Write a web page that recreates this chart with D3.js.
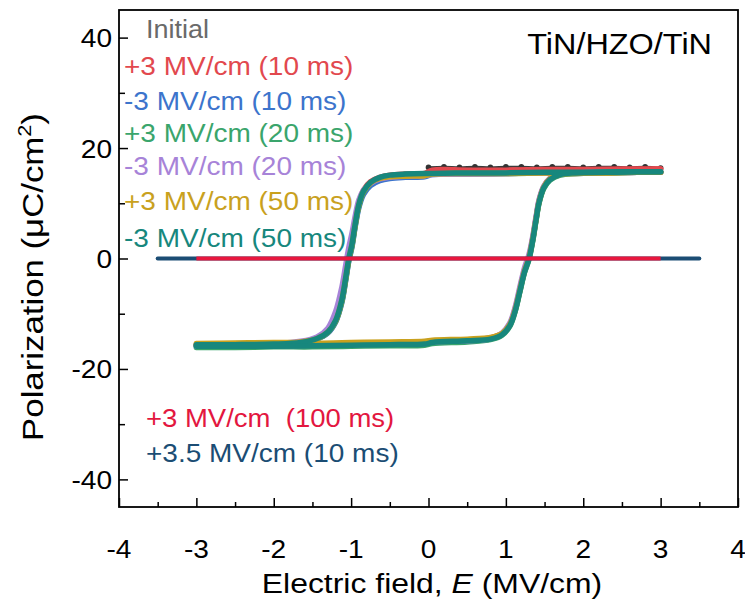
<!DOCTYPE html>
<html>
<head>
<meta charset="utf-8">
<script src="https://cdn.jsdelivr.net/npm/d3@7/dist/d3.min.js"></script>
<style>
  html, body { margin: 0; padding: 0; background: #fff; }
  svg { display: block; font-family: "Liberation Sans", Arial, sans-serif; }
  svg text { white-space: pre; }
</style>
</head>
<body>
<svg id="chart" width="745" height="601"></svg>
<script>
// Electric-field grids for the two loop branches (MV/cm)
const eUpper = [3.0, 2.5, 2.0, 1.5, 1.0, 0.5, 0.05, -0.05, -0.3, -0.5, -0.63, -0.75, -0.84, -0.90, -0.95, -0.99, -1.03, -1.07, -1.12, -1.20, -1.30, -1.44, -1.65, -2.0, -2.5, -3.0];
const eLower = [-3.0, -2.5, -2.0, -1.5, -1.0, -0.5, -0.05, 0.05, 0.5, 0.8, 0.95, 1.05, 1.12, 1.18, 1.24, 1.30, 1.35, 1.39, 1.43, 1.49, 1.57, 1.7, 1.9, 2.3, 2.7, 3.0];

// Polarization (µC/cm²) on each branch, per stress condition
const pUpperRed10    = [16.2, 16.2, 16.1, 16.1, 16.0, 16.0, 16.0, 15.4, 15.3, 15.1, 14.7, 13.9, 12.4, 10.0, 6.3, 2.8, 0.3, -3.2, -7.3, -11.0, -13.2, -14.5, -15.2, -15.5, -15.6, -15.6];
const pLowerRed10    = [-15.7, -15.7, -15.6, -15.6, -15.5, -15.4, -15.3, -15.0, -14.8, -14.4, -13.6, -11.9, -9.1, -5.6, -2.1, 0.4, 3.9, 7.3, 10.5, 13.0, 14.5, 15.4, 15.8, 16.0, 16.1, 16.2];
const pUpperBlue10   = [15.6, 15.6, 15.5, 15.5, 15.4, 15.3, 15.2, 14.8, 14.7, 14.5, 14.1, 13.2, 11.6, 9.2, 5.5, 2.0, -0.5, -4.0, -8.0, -11.5, -13.5, -14.6, -15.3, -15.5, -15.6, -15.6];
const pLowerBlue10   = [-15.8, -15.8, -15.7, -15.6, -15.5, -15.3, -15.1, -15.0, -14.8, -14.4, -13.7, -12.0, -9.3, -5.8, -2.3, 0.2, 3.7, 7.2, 10.4, 12.9, 14.4, 15.2, 15.4, 15.5, 15.6, 15.6];
const pUpperGreen20  = [15.6, 15.6, 15.5, 15.5, 15.4, 15.4, 15.3, 15.3, 15.2, 15.0, 14.6, 13.6, 12.0, 9.5, 5.7, 2.2, -0.3, -3.8, -7.8, -11.4, -13.4, -14.6, -15.3, -15.6, -15.7, -15.8];
const pLowerGreen20  = [-16.1, -16.1, -16.0, -16.0, -15.9, -15.8, -15.7, -15.4, -15.1, -14.7, -13.9, -12.3, -9.6, -6.1, -2.6, -0.1, 3.4, 6.9, 10.1, 12.7, 14.2, 15.1, 15.4, 15.5, 15.6, 15.6];
const pUpperPurple20 = [15.6, 15.6, 15.5, 15.5, 15.4, 15.3, 15.2, 15.0, 14.9, 14.7, 14.4, 13.6, 12.4, 10.6, 7.5, 4.5, 2.0, -1.2, -5.2, -9.6, -12.6, -14.2, -15.0, -15.4, -15.5, -15.6];
const pLowerPurple20 = [-15.9, -15.9, -15.8, -15.7, -15.6, -15.5, -15.4, -15.1, -14.9, -14.5, -13.5, -11.7, -8.8, -5.2, -1.7, 0.8, 4.2, 7.6, 10.7, 13.1, 14.5, 15.3, 15.5, 15.6, 15.6, 15.7];
const pUpperGold50   = [15.6, 15.6, 15.5, 15.5, 15.4, 15.4, 15.3, 15.0, 14.9, 14.8, 14.5, 13.7, 12.1, 9.7, 5.9, 2.4, -0.1, -3.6, -7.6, -11.3, -13.3, -14.5, -15.1, -15.2, -15.3, -15.4];
const pLowerGold50   = [-15.7, -15.6, -15.5, -15.4, -15.2, -15.1, -15.0, -14.8, -14.6, -14.3, -13.6, -12.0, -9.3, -5.8, -2.3, 0.2, 3.7, 7.1, 10.3, 12.9, 14.4, 15.2, 15.4, 15.5, 15.6, 15.6];
const pUpperTeal50   = [15.7, 15.7, 15.6, 15.6, 15.5, 15.5, 15.4, 15.4, 15.3, 15.1, 14.7, 13.8, 12.2, 9.8, 6.0, 2.5, 0.0, -3.5, -7.5, -11.2, -13.3, -14.5, -15.2, -15.5, -15.6, -15.6];
const pLowerTeal50   = [-15.9, -15.9, -15.9, -15.8, -15.7, -15.6, -15.5, -15.2, -14.9, -14.6, -13.8, -12.2, -9.5, -6.0, -2.5, 0.0, 3.5, 7.0, 10.2, 12.8, 14.3, 15.2, 15.5, 15.6, 15.7, 15.7];

// Initial (pristine) measurement on the positive side
const eInitial = [0.0, 0.2, 0.4, 0.6, 0.8, 1.0, 1.2, 1.4, 1.6, 1.8, 2.0, 2.2, 2.4, 2.6, 2.8, 3.0];
const pInitial = [16.5, 16.6, 16.5, 16.6, 16.5, 16.6, 16.6, 16.5, 16.6, 16.6, 16.5, 16.6, 16.6, 16.5, 16.6, 16.4];

// Long / strong pulse traces: flat at zero polarization
const eNavy35 = [-3.5, 3.5];
const pNavy35 = [0, 0];
const eRed100 = [-3.0, 3.0];
const pRed100 = [0, 0];

// Axis ticks
const xTicks = [-4, -3, -2, -1, 0, 1, 2, 3, 4];
const yTicks = [-40, -20, 0, 20, 40];

const zip = (es, ps) => es.map((e, i) => [e, ps[i]]);

const loops = [
  { name: "+3 MV/cm (10 ms)", color: "#e2484e", upper: zip(eUpper, pUpperRed10),    lower: zip(eLower, pLowerRed10) },
  { name: "-3 MV/cm (10 ms)", color: "#3c74cc", upper: zip(eUpper, pUpperBlue10),   lower: zip(eLower, pLowerBlue10) },
  { name: "+3 MV/cm (20 ms)", color: "#3aa56c", upper: zip(eUpper, pUpperGreen20),  lower: zip(eLower, pLowerGreen20) },
  { name: "-3 MV/cm (20 ms)", color: "#a783d8", upper: zip(eUpper, pUpperPurple20), lower: zip(eLower, pLowerPurple20) },
  { name: "+3 MV/cm (50 ms)", color: "#c9a11e", upper: zip(eUpper, pUpperGold50),   lower: zip(eLower, pLowerGold50) },
  { name: "-3 MV/cm (50 ms)", color: "#17877d", upper: zip(eUpper, pUpperTeal50),   lower: zip(eLower, pLowerTeal50) }
];

const svg = d3.select("#chart");
const font = '"Liberation Sans", Arial, sans-serif';

const x = d3.scaleLinear().domain([-4, 4]).range([119, 738]);
const y = d3.scaleLinear().domain([-45, 45]).range([507, 10]);

const line = d3.line()
  .x(d => x(d[0]))
  .y(d => y(d[1]))
  .curve(d3.curveCatmullRom.alpha(0.5));

const plot = svg.append("g");

// Initial trace: dark dotted line
plot.append("path")
  .datum(zip(eInitial, pInitial))
  .attr("d", line)
  .attr("fill", "none")
  .attr("stroke", "#3a3a3a")
  .attr("stroke-width", 2.2);
plot.append("g").selectAll("circle")
  .data(zip(eInitial, pInitial))
  .join("circle")
  .attr("cx", d => x(d[0]))
  .attr("cy", d => y(d[1]))
  .attr("r", 2.8)
  .attr("fill", "#333");

// Hysteresis loops
loops.forEach(s => {
  [s.upper, s.lower].forEach(branch => {
    plot.append("path")
      .datum(branch)
      .attr("d", line)
      .attr("fill", "none")
      .attr("stroke", s.color)
      .attr("stroke-width", 5.5)
      .attr("stroke-linecap", "round")
      .attr("stroke-linejoin", "round");
  });
});

// Zero-polarization traces
plot.append("path")
  .datum(zip(eNavy35, pNavy35))
  .attr("d", d3.line().x(d => x(d[0])).y(d => y(d[1])))
  .attr("stroke", "#1b4d74")
  .attr("stroke-width", 4)
  .attr("stroke-linecap", "round");
plot.append("path")
  .datum(zip(eRed100, pRed100))
  .attr("d", d3.line().x(d => x(d[0])).y(d => y(d[1])))
  .attr("stroke", "#e8173e")
  .attr("stroke-width", 4);

// Axes with inward ticks
const xMinor = d3.range(-3.5, 4, 1);
const yMinor = [-30, -10, 10, 30];

const xAxis = d3.axisBottom(x).tickValues(xTicks).tickSize(-9).tickFormat("");
const gx = svg.append("g").attr("transform", `translate(0,${y(-45)})`).call(xAxis);
gx.select(".domain").remove();
gx.selectAll(".tick line").attr("stroke", "#000").attr("stroke-width", 1.5);

const xm = d3.axisBottom(x).tickValues(xMinor).tickSize(-5).tickFormat("");
const gxm = svg.append("g").attr("transform", `translate(0,${y(-45)})`).call(xm);
gxm.select(".domain").remove();
gxm.selectAll(".tick line").attr("stroke", "#000").attr("stroke-width", 1.5);

const yAxis = d3.axisLeft(y).tickValues(yTicks).tickSize(-9).tickFormat("");
const gy = svg.append("g").attr("transform", `translate(${x(-4)},0)`).call(yAxis);
gy.select(".domain").remove();
gy.selectAll(".tick line").attr("stroke", "#000").attr("stroke-width", 1.5);

const ym = d3.axisLeft(y).tickValues(yMinor).tickSize(-6).tickFormat("");
const gym = svg.append("g").attr("transform", `translate(${x(-4)},0)`).call(ym);
gym.select(".domain").remove();
gym.selectAll(".tick line").attr("stroke", "#000").attr("stroke-width", 1.5);

// Frame
svg.append("rect")
  .attr("x", x(-4)).attr("y", y(45))
  .attr("width", x(4) - x(-4)).attr("height", y(-45) - y(45))
  .attr("fill", "none").attr("stroke", "#000").attr("stroke-width", 1.8);

// Text helper with a slight horizontal stretch
function label(tx, ty, text, opts = {}) {
  const g = svg.append("g")
    .attr("transform", `translate(${tx},${ty}) ${opts.rotate ? `rotate(${opts.rotate})` : ""} scale(${opts.sx || 1},1)`);
  return g.append("text")
    .attr("font-family", font)
    .attr("font-size", opts.size || 26)
    .attr("fill", opts.color || "#000")
    .attr("text-anchor", opts.anchor || "start")
    .text(text);
}

// Tick labels
xTicks.forEach(v => label(x(v), 558, v, { anchor: "middle", sx: 1.08, size: 26 }));
yTicks.forEach(v => label(112, y(v) + 9.5, v, { anchor: "end", sx: 1.08, size: 26 }));

// Axis titles
const xt = label(432, 593, "", { anchor: "middle", sx: 1.14, size: 28 });
xt.append("tspan").text("Electric field, ");
xt.append("tspan").attr("font-style", "italic").text("E");
xt.append("tspan").text(" (MV/cm)");

const yt = label(43, 277, "", { anchor: "middle", sx: 1.2, size: 29, rotate: -90 });
yt.append("tspan").text("Polarization (\u03BCC/cm");
yt.append("tspan").attr("font-size", 18).attr("dy", -12).text("2");
yt.append("tspan").attr("dy", 12).text(")");

// Legend text
label(146, 38, "Initial", { color: "#6a6a6a", sx: 1.08, size: 25 });
const legendY = [75, 110, 142, 175, 210, 247];
loops.forEach((s, i) => {
  label(124, legendY[i], s.name, { color: s.color, sx: 1.12, size: 25 });
});
label(146, 427, "+3 MV/cm  (100 ms)", { color: "#e3173f", sx: 1.1, size: 25 });
label(146, 462, "+3.5 MV/cm (10 ms)", { color: "#1b4d74", sx: 1.12, size: 25 });

// Device stack
label(712, 54, "TiN/HZO/TiN", { anchor: "end", sx: 1.08, size: 30 });
</script>
</body>
</html>
